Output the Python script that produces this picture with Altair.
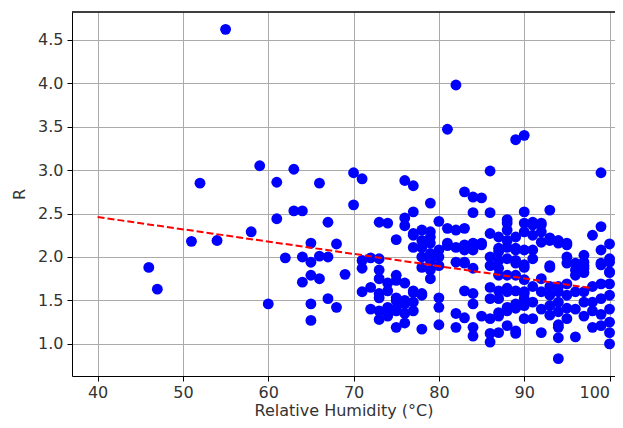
import altair as alt
import pandas as pd

# Relative humidity (x) and R (y) for each observation
humidity = [
    46, 47, 51, 52, 54, 55, 58, 59, 60,
    61, 61, 62, 63, 63, 64, 64, 64,
    65, 65, 65, 65, 65, 66, 66, 66,
    67, 67, 67, 68, 68, 69, 70, 70,
    71, 71, 71, 71, 72, 72, 72,
    73, 73, 73, 73, 73, 73, 73, 73,
    74, 74, 74, 74, 74, 74,
    75, 75, 75, 75, 75, 75, 75, 75,
    76, 76, 76, 76, 76, 76, 76, 76,
    77, 77, 77, 77, 77, 77, 77, 77, 77,
    78, 78, 78, 78, 78, 78, 78, 78,
    79, 79, 79, 79, 79, 79, 79, 79,
    80, 80, 80, 80, 80, 80, 80,
    81, 81, 81, 81,
    82, 82, 82, 82, 82, 82,
    83, 83, 83, 83, 83, 83, 83, 83,
    84, 84, 84, 84, 84, 84, 84, 84, 84,
    85, 85, 85, 85,
    86, 86, 86, 86, 86, 86, 86, 86, 86, 86,
    87, 87, 87, 87, 87, 87, 87, 87, 87, 87, 87,
    88, 88, 88, 88, 88, 88, 88, 88, 88, 88, 88, 88,
    89, 89, 89, 89, 89, 89, 89, 89, 89, 89, 89, 89,
    90, 90, 90, 90, 90, 90, 90, 90, 90, 90, 90, 90, 90,
    91, 91, 91, 91, 91, 91, 91, 91,
    92, 92, 92, 92, 92, 92, 92, 92,
    93, 93, 93, 93, 93, 93, 93, 93, 93,
    94, 94, 94, 94, 94, 94, 94, 94, 94, 94,
    95, 95, 95, 95, 95, 95, 95, 95,
    96, 96, 96, 96, 96, 96,
    97, 97, 97, 97, 97, 97, 97, 97,
    98, 98, 98, 98, 98,
    99, 99, 99, 99, 99, 99, 99, 99, 99,
    100, 100, 100, 100, 100, 100, 100, 100, 100, 100, 100,
]
r_values = [
    1.88, 1.63, 2.18, 2.85, 2.19, 4.62, 2.29, 3.05, 1.46,
    2.86, 2.44, 1.99, 3.01, 2.53, 2.53, 2.00, 1.71,
    2.16, 1.94, 1.79, 1.46, 1.27, 2.85, 2.01, 1.75,
    2.40, 2.00, 1.52, 2.15, 1.42, 1.80, 2.97, 2.60,
    2.90, 1.96, 1.87, 1.60, 1.99, 1.65, 1.40,
    2.40, 1.98, 1.85, 1.75, 1.58, 1.53, 1.38, 1.28,
    2.39, 1.70, 1.61, 1.42, 1.36, 1.32,
    2.20, 1.79, 1.73, 1.53, 1.50, 1.41, 1.38, 1.19,
    2.88, 2.45, 2.36, 1.70, 1.50, 1.46, 1.35, 1.24,
    2.82, 2.52, 2.27, 2.25, 2.11, 1.61, 1.59, 1.48, 1.38,
    2.31, 2.19, 2.11, 2.00, 1.88, 1.58, 1.56, 1.17,
    2.62, 2.29, 2.23, 2.16, 2.04, 1.96, 1.85, 1.75,
    2.41, 2.08, 2.00, 1.90, 1.53, 1.42, 1.22,
    3.47, 2.33, 2.16, 2.13,
    3.98, 2.31, 2.11, 1.94, 1.35, 1.19,
    2.75, 2.33, 2.14, 2.08, 1.94, 1.93, 1.61, 1.30,
    2.69, 2.51, 2.16, 2.08, 1.87, 1.58, 1.46, 1.19, 1.09,
    2.68, 2.16, 2.14, 1.32,
    2.99, 2.51, 2.27, 2.00, 1.90, 1.65, 1.52, 1.29, 1.12, 1.02,
    2.23, 2.10, 2.06, 1.96, 1.87, 1.79, 1.61, 1.52, 1.36, 1.32, 1.13,
    2.43, 2.39, 2.31, 2.19, 2.11, 1.98, 1.79, 1.64, 1.60, 1.42, 1.38, 1.21,
    3.35, 2.23, 2.10, 2.08, 1.96, 1.93, 1.79, 1.61, 1.46, 1.41, 1.15, 1.12,
    3.40, 2.52, 2.39, 2.29, 2.08, 1.91, 1.88, 1.74, 1.60, 1.58, 1.52, 1.44, 1.29,
    2.40, 2.37, 2.25, 2.08, 1.98, 1.66, 1.48, 1.29,
    2.39, 2.37, 2.29, 2.17, 1.75, 1.60, 1.40, 1.13,
    2.54, 2.22, 2.19, 1.90, 1.88, 1.66, 1.56, 1.44, 1.33,
    2.19, 2.16, 1.66, 1.60, 1.48, 1.37, 1.22, 1.19, 1.07, 0.83,
    2.16, 2.14, 2.00, 1.93, 1.69, 1.56, 1.41, 1.29,
    1.93, 1.85, 1.79, 1.60, 1.40, 1.08,
    2.02, 1.94, 1.90, 1.87, 1.82, 1.60, 1.48, 1.32,
    2.25, 1.66, 1.48, 1.38, 1.19,
    2.97, 2.35, 2.08, 1.93, 1.91, 1.69, 1.52, 1.34, 1.21,
    2.15, 1.98, 1.94, 1.83, 1.82, 1.69, 1.56, 1.40, 1.25, 1.13, 1.00,
]

# Fitted trend line end points
trend_x = [40, 98]
trend_y = [2.46, 1.64]

x_ticks = [40, 50, 60, 70, 80, 90, 100]
y_ticks = [1.0, 1.5, 2.0, 2.5, 3.0, 3.5, 4.0, 4.5]

points = pd.DataFrame({"humidity": humidity, "R": r_values})
trend = pd.DataFrame({"humidity": trend_x, "R": trend_y})

FONT = "DejaVu Sans"
x_scale = alt.Scale(domain=[37, 100.64], nice=False, zero=False)
y_scale = alt.Scale(domain=[0.63, 4.82], nice=False, zero=False)

x_axis = alt.Axis(
    values=x_ticks, format="d", title="Relative Humidity (°C)",
    grid=True, gridColor="#aaaaaa", gridWidth=1,
    domainColor="black", tickColor="black", tickSize=5, tickWidth=1,
    labelFont=FONT, labelFontSize=16, labelColor="#333333", labelPadding=3,
    labelFlush=10, labelOverlap=False,
    titleFont=FONT, titleFontSize=16, titleFontWeight="normal", titleColor="#333333",
    titlePadding=2,
)
y_axis = alt.Axis(
    values=y_ticks, format=".1f", title="R",
    grid=True, gridColor="#aaaaaa", gridWidth=1,
    domainColor="black", tickColor="black", tickSize=5, tickWidth=1,
    labelFont=FONT, labelFontSize=16, labelColor="#333333", labelPadding=4,
    titleFont=FONT, titleFontSize=16, titleFontWeight="normal", titleColor="#333333",
    titlePadding=10,
)

scatter = alt.Chart(points).mark_circle(size=118, color="#0000ff", opacity=1).encode(
    x=alt.X("humidity:Q", scale=x_scale, axis=x_axis),
    y=alt.Y("R:Q", scale=y_scale, axis=y_axis),
)

line = alt.Chart(trend).mark_line(color="red", strokeWidth=2, strokeDash=[7, 3]).encode(
    x=alt.X("humidity:Q", scale=x_scale),
    y=alt.Y("R:Q", scale=y_scale),
)

top_spine = alt.Chart(trend).mark_rule(color="black", strokeWidth=1).encode(
    x=alt.value(0), x2=alt.value(543), y=alt.value(0)
)

chart = alt.layer(scatter, line, top_spine).properties(
    width=543, height=364,
    autosize=alt.AutoSizeParams(type="none"),
    padding={"left": 64, "top": 4, "right": 0, "bottom": 44},
).configure_view(stroke=None)

chart.save("out.html", embed_options={"renderer": "svg", "actions": False})
